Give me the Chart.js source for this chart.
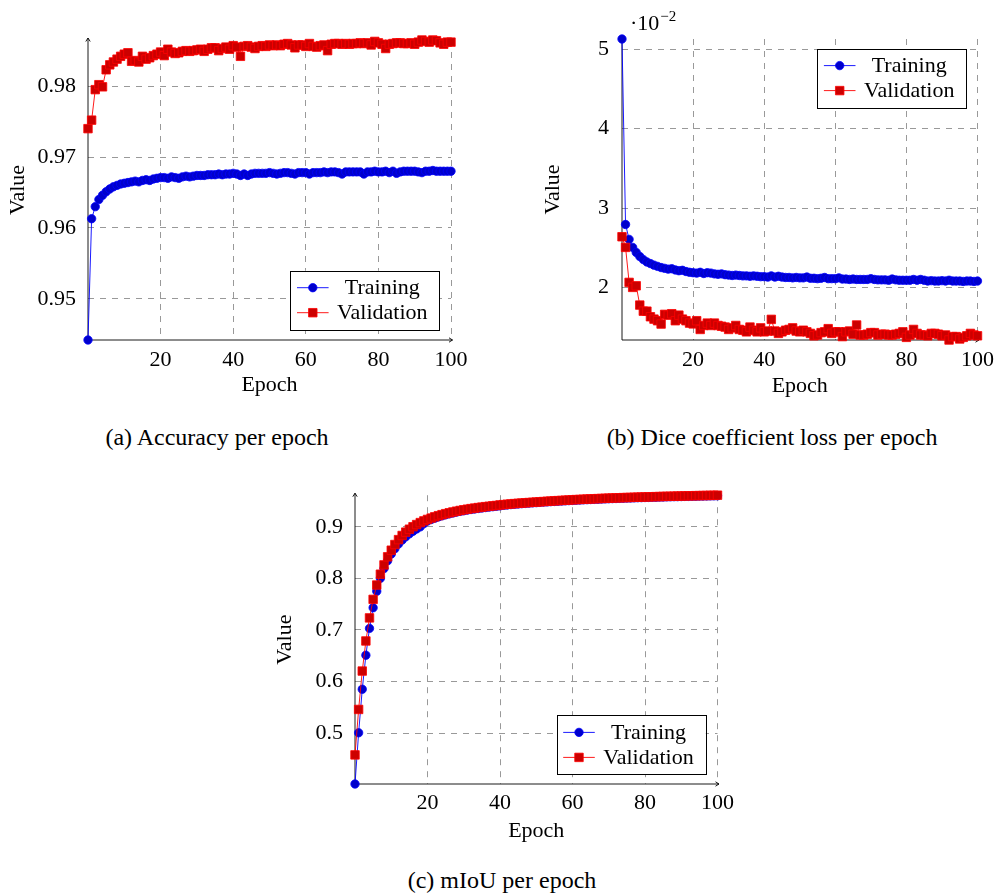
<!DOCTYPE html>
<html>
<head>
<meta charset="utf-8">
<script src="https://cdn.jsdelivr.net/npm/chart.js@4.4.0/dist/chart.umd.min.js"></script>
<style>
  body { margin: 0; background: #fff; width: 1001px; height: 895px; position: relative; overflow: hidden; font-family: "Liberation Serif", serif; }
  canvas { position: absolute; }
  .cap { position: absolute; font-family: "Liberation Serif", serif; font-size: 24px; line-height: 24px; white-space: nowrap; transform: translateX(-50%); color: #000; }
</style>
</head>
<body>
<canvas id="chartAcc" width="480" height="400" style="left:0;top:0"></canvas>
<canvas id="chartDice" width="471" height="400" style="left:530px;top:0"></canvas>
<canvas id="chartMiou" width="470" height="375" style="left:270px;top:470px"></canvas>
<div class="cap" style="left:217px;top:425px">(a) Accuracy per epoch</div>
<div class="cap" style="left:772px;top:425px">(b) Dice coefficient loss per epoch</div>
<div class="cap" style="left:502px;top:868px">(c) mIoU per epoch</div>
<script>
// --- DADOS ---
const epochs = Array.from({ length: 101 }, (_, i) => i);
const seriesLabels = ['Training', 'Validation'];
const xTicks = [20, 40, 60, 80, 100];
const accTicks = [0.95, 0.96, 0.97, 0.98];
const diceTicks = [0.02, 0.03, 0.04, 0.05];
const miouTicks = [0.5, 0.6, 0.7, 0.8, 0.9];

const accTrain = [
  0.9442, 0.9613, 0.9630, 0.9640, 0.9646, 0.9651, 0.9655, 0.9658, 0.9660, 0.9662,
  0.9663, 0.9664, 0.9665, 0.9666, 0.9665, 0.9667, 0.9668, 0.9667, 0.9669, 0.9670,
  0.9671, 0.9671, 0.9670, 0.9672, 0.9671, 0.9670, 0.9672, 0.9673, 0.9672, 0.9673,
  0.9674, 0.9674, 0.9674, 0.9675, 0.9675, 0.9675, 0.9676, 0.9675, 0.9676, 0.9676,
  0.9677, 0.9676, 0.9674, 0.9676, 0.9674, 0.9676, 0.9677, 0.9677, 0.9677, 0.9677,
  0.9678, 0.9677, 0.9676, 0.9677, 0.9678, 0.9678, 0.9677, 0.9676, 0.9678, 0.9678,
  0.9678, 0.9676, 0.9678, 0.9678, 0.9678, 0.9679, 0.9678, 0.9679, 0.9679, 0.9678,
  0.9676, 0.9679, 0.9679, 0.9679, 0.9679, 0.9679, 0.9676, 0.9679, 0.9679, 0.9680,
  0.9679, 0.9679, 0.9680, 0.9678, 0.9680, 0.9677, 0.9679, 0.9680, 0.9680, 0.9680,
  0.9680, 0.9679, 0.9678, 0.9680, 0.9680, 0.9681, 0.9680, 0.9680, 0.9680, 0.9680,
  0.9680
];
const accVal = [
  0.9740, 0.9752, 0.9795, 0.9802, 0.9799, 0.9823, 0.9830, 0.9834, 0.9838, 0.9842,
  0.9845, 0.9847, 0.9835, 0.9836, 0.9834, 0.9842, 0.9838, 0.9840, 0.9843, 0.9845,
  0.9848, 0.9843, 0.9852, 0.9848, 0.9846, 0.9847, 0.9849, 0.9850, 0.9849, 0.9850,
  0.9851, 0.9852, 0.9849, 0.9852, 0.9854, 0.9854, 0.9850, 0.9853, 0.9855, 0.9852,
  0.9857, 0.9855, 0.9842, 0.9856, 0.9857, 0.9855, 0.9853, 0.9856, 0.9857, 0.9856,
  0.9858, 0.9857, 0.9858, 0.9857, 0.9859, 0.9860, 0.9858, 0.9854, 0.9858, 0.9858,
  0.9856, 0.9860, 0.9856, 0.9855, 0.9857, 0.9858, 0.9850, 0.9859, 0.9860, 0.9860,
  0.9859, 0.9860, 0.9859, 0.9860, 0.9860, 0.9861, 0.9860, 0.9861, 0.9858, 0.9863,
  0.9861, 0.9859, 0.9853, 0.9859, 0.9860, 0.9861, 0.9861, 0.9860, 0.9860, 0.9861,
  0.9859, 0.9862, 0.9865, 0.9863, 0.9862, 0.9865, 0.9864, 0.9861, 0.9859, 0.9862,
  0.9862
];
const diceTrain = [
  0.05130, 0.02793, 0.02605, 0.02504, 0.02440, 0.02390, 0.02350, 0.02320, 0.02300, 0.02280,
  0.02265, 0.02250, 0.02240, 0.02230, 0.02235, 0.02220, 0.02210, 0.02215, 0.02200, 0.02190,
  0.02185, 0.02180, 0.02190, 0.02175, 0.02185, 0.02180, 0.02170, 0.02165, 0.02170, 0.02160,
  0.02155, 0.02150, 0.02155, 0.02150, 0.02145, 0.02145, 0.02140, 0.02145, 0.02140, 0.02135,
  0.02135, 0.02130, 0.02145, 0.02130, 0.02140, 0.02130, 0.02125, 0.02125, 0.02120, 0.02125,
  0.02120, 0.02120, 0.02130, 0.02115, 0.02115, 0.02110, 0.02115, 0.02125, 0.02110, 0.02110,
  0.02110, 0.02120, 0.02105, 0.02105, 0.02100, 0.02105, 0.02100, 0.02100, 0.02100, 0.02100,
  0.02110, 0.02100, 0.02095, 0.02095, 0.02095, 0.02090, 0.02105, 0.02095, 0.02090, 0.02090,
  0.02090, 0.02090, 0.02100, 0.02090, 0.02100, 0.02090, 0.02080, 0.02085, 0.02080, 0.02080,
  0.02085, 0.02080, 0.02090, 0.02080, 0.02080, 0.02080, 0.02075, 0.02080, 0.02080, 0.02075,
  0.02080
];
const diceVal = [
  0.02638, 0.02504, 0.02063, 0.02000, 0.02020, 0.01777, 0.01700, 0.01700, 0.01630, 0.01600,
  0.01580, 0.01538, 0.01660, 0.01650, 0.01668, 0.01580, 0.01650, 0.01600, 0.01580, 0.01550,
  0.01540, 0.01580, 0.01470, 0.01520, 0.01550, 0.01520, 0.01550, 0.01520, 0.01510, 0.01500,
  0.01470, 0.01490, 0.01520, 0.01470, 0.01460, 0.01440, 0.01500, 0.01460, 0.01440, 0.01490,
  0.01440, 0.01450, 0.01597, 0.01450, 0.01420, 0.01440, 0.01460, 0.01470, 0.01490, 0.01450,
  0.01440, 0.01460, 0.01440, 0.01420, 0.01390, 0.01400, 0.01430, 0.01440, 0.01480, 0.01420,
  0.01440, 0.01440, 0.01380, 0.01440, 0.01450, 0.01410, 0.01526, 0.01400, 0.01400, 0.01410,
  0.01430, 0.01430, 0.01400, 0.01410, 0.01410, 0.01400, 0.01400, 0.01410, 0.01420, 0.01440,
  0.01370, 0.01400, 0.01470, 0.01420, 0.01400, 0.01400, 0.01390, 0.01420, 0.01420, 0.01410,
  0.01390, 0.01400, 0.01337, 0.01380, 0.01380, 0.01350, 0.01370, 0.01390, 0.01420, 0.01400,
  0.01390
];
const miouTrain = [
  0.4014, 0.5006, 0.5850, 0.6510, 0.7030, 0.7430, 0.7750, 0.8000, 0.8190, 0.8340,
  0.8470, 0.8575, 0.8665, 0.8740, 0.8805, 0.8862, 0.8912, 0.8957, 0.8998, 0.9060,
  0.9110, 0.9140, 0.9166, 0.9190, 0.9212, 0.9232, 0.9250, 0.9267, 0.9283, 0.9297,
  0.9310, 0.9322, 0.9334, 0.9344, 0.9354, 0.9363, 0.9372, 0.9380, 0.9388, 0.9396,
  0.9405, 0.9415, 0.9422, 0.9429, 0.9435, 0.9441, 0.9447, 0.9452, 0.9457, 0.9462,
  0.9467, 0.9472, 0.9477, 0.9481, 0.9486, 0.9490, 0.9494, 0.9498, 0.9502, 0.9506,
  0.9510, 0.9514, 0.9517, 0.9521, 0.9524, 0.9527, 0.9530, 0.9533, 0.9536, 0.9539,
  0.9542, 0.9545, 0.9547, 0.9550, 0.9552, 0.9555, 0.9557, 0.9559, 0.9562, 0.9564,
  0.9566, 0.9568, 0.9570, 0.9572, 0.9574, 0.9576, 0.9578, 0.9580, 0.9582, 0.9583,
  0.9585, 0.9587, 0.9588, 0.9590, 0.9591, 0.9593, 0.9594, 0.9596, 0.9597, 0.9598,
  0.9600
];
const miouVal = [
  0.4578, 0.5459, 0.6203, 0.6786, 0.7233, 0.7592, 0.7870, 0.8080, 0.8260, 0.8417,
  0.8545, 0.8655, 0.8750, 0.8830, 0.8895, 0.8952, 0.9000, 0.9042, 0.9080, 0.9113,
  0.9142, 0.9168, 0.9192, 0.9214, 0.9234, 0.9253, 0.9270, 0.9286, 0.9301, 0.9315,
  0.9328, 0.9340, 0.9351, 0.9361, 0.9371, 0.9380, 0.9389, 0.9397, 0.9405, 0.9412,
  0.9422, 0.9429, 0.9436, 0.9442, 0.9448, 0.9454, 0.9459, 0.9464, 0.9469, 0.9474,
  0.9478, 0.9483, 0.9488, 0.9493, 0.9497, 0.9502, 0.9506, 0.9510, 0.9514, 0.9518,
  0.9522, 0.9526, 0.9529, 0.9533, 0.9536, 0.9539, 0.9542, 0.9545, 0.9548, 0.9551,
  0.9554, 0.9556, 0.9559, 0.9561, 0.9564, 0.9566, 0.9568, 0.9571, 0.9573, 0.9575,
  0.9577, 0.9579, 0.9581, 0.9583, 0.9585, 0.9587, 0.9589, 0.9590, 0.9592, 0.9594,
  0.9595, 0.9597, 0.9599, 0.9600, 0.9602, 0.9603, 0.9605, 0.9606, 0.9608, 0.9609,
  0.9611
];

// --- ESTILO ---
const FONT = '"Liberation Serif", serif';
Chart.defaults.font.family = FONT;
Chart.defaults.color = '#000';
const tickFont = { family: FONT, size: 22 };

const styles = [
  { line: '#0000ff', fill: '#0000cc', edge: '#0000ff', shape: 'circle', radius: 4.2 },
  { line: '#ff0000', fill: '#cc0000', edge: '#ff0000', shape: 'rect', radius: 6 }
];

function drawMark(ctx, st, x, y) {
  ctx.fillStyle = st.fill;
  ctx.strokeStyle = st.edge;
  ctx.lineWidth = 0.8;
  ctx.beginPath();
  if (st.shape === 'circle') {
    ctx.arc(x, y, st.radius, 0, Math.PI * 2);
  } else {
    const h = st.radius / Math.SQRT2;
    ctx.rect(x - h, y - h, 2 * h, 2 * h);
  }
  ctx.fill();
  ctx.stroke();
}

// eixos com setas + legenda em caixa
const axesLegendPlugin = {
  id: 'axesLegend',
  beforeDatasetsDraw(chart) {
    const { ctx, chartArea: a } = chart;
    ctx.save();
    ctx.strokeStyle = '#000';
    ctx.lineWidth = 0.9;
    ctx.beginPath();
    ctx.moveTo(a.left, a.bottom); ctx.lineTo(a.left, a.top - 2);
    ctx.moveTo(a.left, a.bottom); ctx.lineTo(a.right + 1.5, a.bottom);
    ctx.moveTo(a.left - 2.2, a.top + 1.5); ctx.lineTo(a.left, a.top - 2); ctx.lineTo(a.left + 2.2, a.top + 1.5);
    ctx.moveTo(a.right - 2, a.bottom - 2.2); ctx.lineTo(a.right + 1.5, a.bottom); ctx.lineTo(a.right - 2, a.bottom + 2.2);
    ctx.stroke();
    ctx.restore();
  },
  afterDatasetsDraw(chart, args, opts) {
    const { ctx, chartArea: a } = chart;
    const w = 149.3, h = 59.3;
    const bx = a.right - opts.insetX - w;
    const by = opts.corner === 'tr' ? a.top + opts.insetY : a.bottom - opts.insetY - h;
    ctx.save();
    ctx.fillStyle = '#fff';
    ctx.fillRect(bx, by, w, h);
    ctx.strokeStyle = '#000';
    ctx.lineWidth = 1;
    ctx.strokeRect(Math.round(bx) + 0.5, Math.round(by) + 0.5, Math.round(w), Math.round(h));
    chart.data.datasets.forEach((ds, i) => {
      const st = styles[i];
      const ry = by + (i === 0 ? 17 : 42);
      ctx.strokeStyle = st.line;
      ctx.lineWidth = 0.9;
      ctx.beginPath();
      ctx.moveTo(bx + 6.7, ry);
      ctx.lineTo(bx + 38.3, ry);
      ctx.stroke();
      drawMark(ctx, st, bx + 22.5, ry);
      ctx.fillStyle = '#000';
      ctx.font = '22px ' + FONT;
      ctx.textAlign = 'center';
      ctx.textBaseline = 'middle';
      ctx.fillText(ds.label, bx + 92, ry + 1);
    });
    if (opts.multiplier) {
      ctx.fillStyle = '#000';
      ctx.textAlign = 'left';
      ctx.textBaseline = 'alphabetic';
      ctx.font = '22px ' + FONT;
      const base = '\u00B710';
      const x0 = a.left + 8;
      ctx.fillText(base, x0, 29.5);
      const bw = ctx.measureText(base).width;
      ctx.font = '15px ' + FONT;
      ctx.fillText('\u22122', x0 + bw + 1, 21);
    }
    ctx.restore();
  }
};

function buildChart(canvasId, train, val, cfg) {
  const pts = arr => arr.map((v, i) => ({ x: epochs[i], y: v }));
  const all = train.concat(val);
  const datasets = [train, val].map((arr, i) => ({
    label: seriesLabels[i],
    data: pts(arr),
    borderColor: styles[i].line,
    borderWidth: 0.9,
    pointStyle: styles[i].shape,
    pointRadius: styles[i].radius,
    pointBackgroundColor: styles[i].fill,
    pointBorderColor: styles[i].edge,
    pointBorderWidth: 0.8,
    tension: 0,
    clip: false,
    order: i === 0 ? 1 : 0
  }));
  return new Chart(document.getElementById(canvasId), {
    type: 'line',
    data: { datasets },
    options: {
      responsive: false,
      animation: false,
      events: [],
      layout: { padding: cfg.padding },
      plugins: {
        legend: { display: false },
        tooltip: { enabled: false },
        axesLegend: cfg.legend
      },
      scales: {
        x: {
          type: 'linear',
          min: 0,
          max: 100,
          afterBuildTicks: s => { s.ticks = xTicks.map(v => ({ value: v })); },
          afterFit: s => { s.height = cfg.xHeight; },
          grid: { color: '#999', lineWidth: 1, drawTicks: false },
          border: { display: false, dash: [6, 6] },
          ticks: { font: tickFont, color: '#000', padding: cfg.xTickPad, maxRotation: 0, callback: v => String(v) },
          title: { display: true, text: 'Epoch', color: '#000', font: tickFont, padding: { top: 0, bottom: cfg.xTitlePad } }
        },
        y: {
          type: 'linear',
          min: Math.min(...all),
          max: Math.max(...all),
          afterBuildTicks: s => { s.ticks = cfg.yTicks.map(v => ({ value: v })); },
          afterFit: s => { s.width = cfg.yWidth; },
          grid: { color: '#999', lineWidth: 1, drawTicks: false },
          border: { display: false, dash: [6, 6] },
          ticks: { font: tickFont, color: '#000', padding: cfg.yTickPad, callback: cfg.yFormat },
          title: { display: true, text: 'Value', color: '#000', font: tickFont, padding: { top: cfg.yTitlePad, bottom: 0 } }
        }
      }
    },
    plugins: [axesLegendPlugin]
  });
}

buildChart('chartAcc', accTrain, accVal, {
  padding: { left: 0, right: 29, top: 40, bottom: 0 },
  xHeight: 60, yWidth: 88, xTickPad: 7, yTickPad: 12, xTitlePad: 2, yTitlePad: 5,
  yTicks: accTicks, yFormat: v => v.toFixed(2),
  legend: { corner: 'br', insetX: 11.4, insetY: 10 }
});

buildChart('chartDice', diceTrain, diceVal, {
  padding: { left: 0, right: 17, top: 39, bottom: 0 },
  xHeight: 60, yWidth: 92, xTickPad: 7, yTickPad: 13, xTitlePad: 1, yTitlePad: 10,
  yTicks: diceTicks, yFormat: v => String(Math.round(v * 100)),
  legend: { corner: 'tr', insetX: 11, insetY: 9.6, multiplier: true }
});

buildChart('chartMiou', miouTrain, miouVal, {
  padding: { left: 0, right: 22, top: 14, bottom: 0 },
  xHeight: 61, yWidth: 85, xTickPad: 6, yTickPad: 12, xTitlePad: 1, yTitlePad: 2.5,
  yTicks: miouTicks, yFormat: v => v.toFixed(1),
  legend: { corner: 'br', insetX: 11.7, insetY: 9.3 }
});
</script>
</body>
</html>
